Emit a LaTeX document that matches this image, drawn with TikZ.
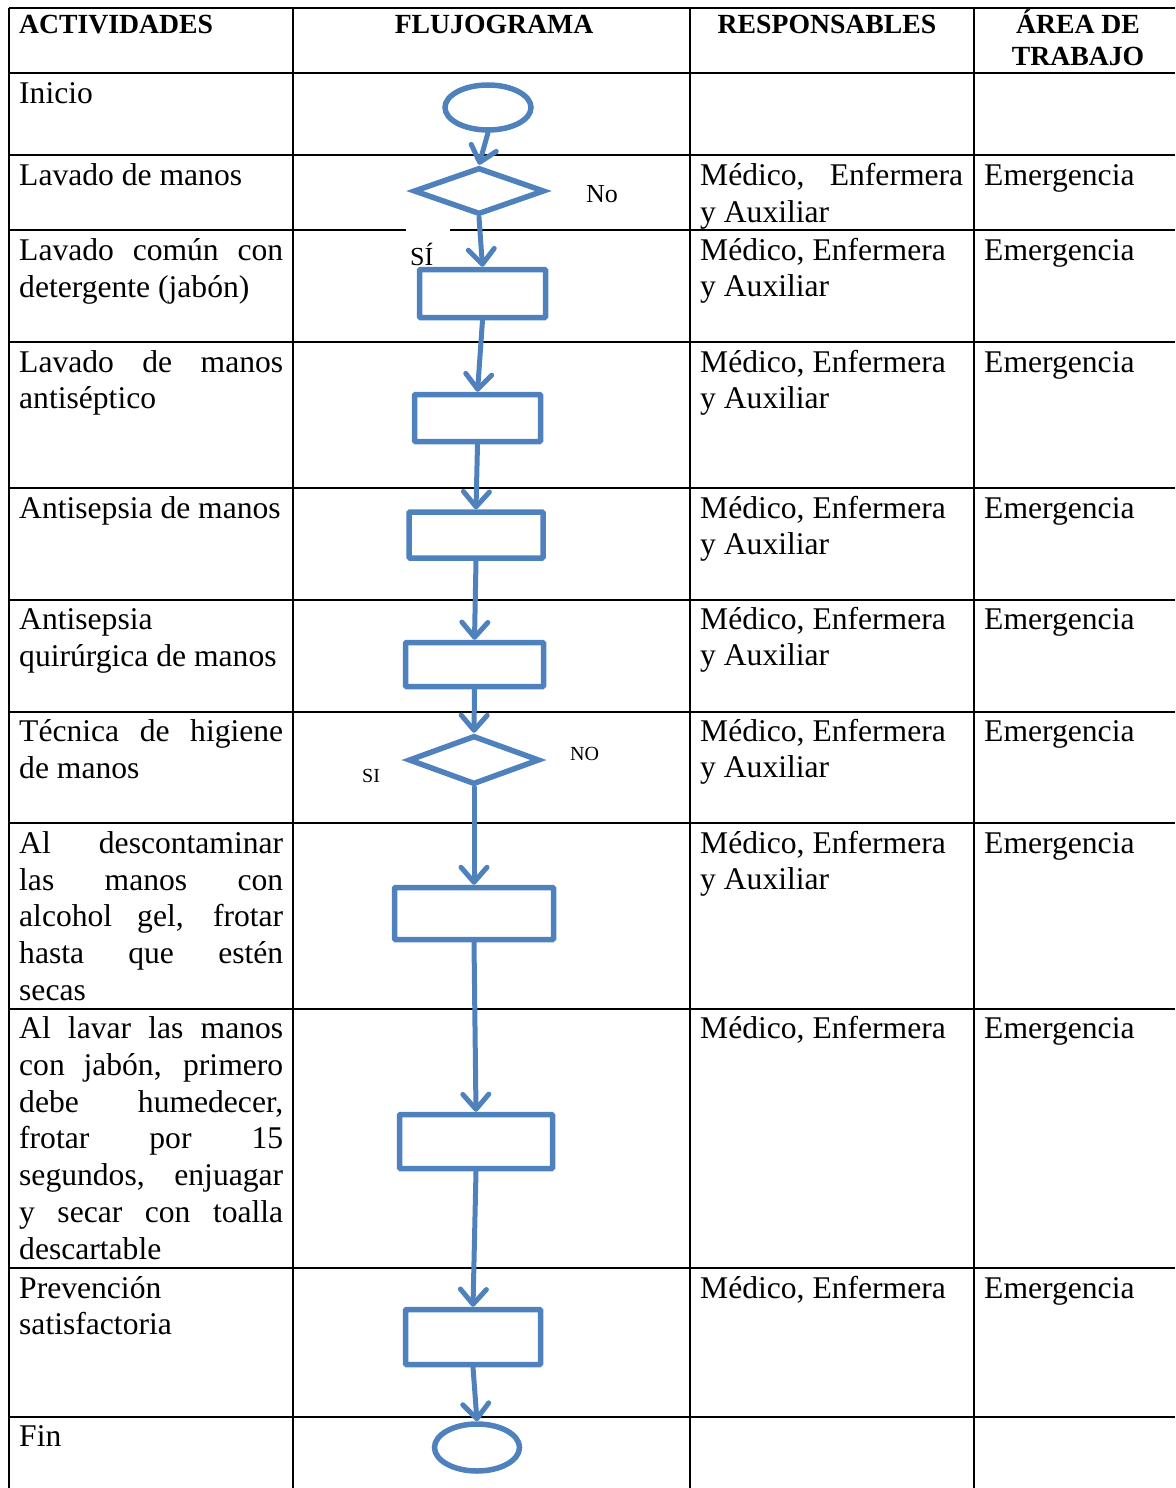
\documentclass[tikz,border=0pt]{standalone}
\usepackage{fontspec}
\setmainfont{Liberation Serif}
\usetikzlibrary{shapes.geometric,arrows.meta}
\definecolor{flowblue}{HTML}{4F81BD}

% justified line of a table cell
\newcommand\jline[2]{\makebox[#1][s]{#2}}

\tikzset{
  rule/.style={line width=2.6pt, black},
  celltext/.style={anchor=base west, inner sep=0pt, font=\fontsize{31.6}{36.7}\selectfont},
  headtext/.style={anchor=base, inner sep=0pt, font=\bfseries\fontsize{27.7}{32}\selectfont},
  lbl/.style={anchor=base west, inner sep=0pt, font=\fontsize{26}{30}\selectfont},
  lblsmall/.style={anchor=base west, inner sep=0pt, font=\fontsize{20}{24}\selectfont},
  flow/.style={draw=flowblue, line width=5.5pt},
  procbox/.style={flow, rectangle, rounded corners=1pt, inner sep=0pt},
  decision/.style={flow, diamond, inner sep=0pt},
  terminal/.style={flow, ellipse, inner sep=0pt},
  link/.style={draw=flowblue, line width=5pt, line cap=round,
    -{Straight Barb[round,length=15pt,width=26pt]}},
}

\begin{document}
\begin{tikzpicture}[x=1pt,y=-1pt]
\useasboundingbox (0,0) rectangle (1175,1488);

% ---- table rules ----
\foreach \yy in {8,73,155,230,342,488,600,712,823,1009,1268,1417}
  \draw[rule] (9,\yy) -- (1175,\yy);
\foreach \xx in {9,293,690,974}
  \draw[rule] (\xx,8) -- (\xx,1488);

% white backing of the "SÍ" label
\fill[white] (406,226) rectangle (450,235);

% ---- header ----
\node[headtext, anchor=base west] (hA) at (19,34) {ACTIVIDADES};
\node[headtext] (hF) at (494,34) {FLUJOGRAMA};
\node[headtext] (hR) at (827,34) {RESPONSABLES};
\node[headtext] (hT1) at (1078,34) {ÁREA DE};
\node[headtext] (hT2) at (1078,66) {TRABAJO};

\begin{scope}[yshift=-2pt]
% ---- activities ----
\node[celltext] (a1) at (19,101) {Inicio};
\node[celltext] (a2) at (19,183) {Lavado de manos};
\node[celltext] (a3) at (19,258) {\jline{264pt}{Lavado común con}};
\node[celltext] (a3b) at (19,295) {detergente (jabón)};
\node[celltext] (a4) at (19,370) {\jline{264pt}{Lavado de manos}};
\node[celltext] (a4b) at (19,406) {antiséptico};
\node[celltext] (a5) at (19,516) {Antisepsia de manos};
\node[celltext] (a6) at (19,627) {Antisepsia};
\node[celltext] (a6b) at (19,664) {quirúrgica de manos};
\node[celltext] (a7) at (19,739) {\jline{264pt}{Técnica de higiene}};
\node[celltext] (a7b) at (19,776) {de manos};
\node[celltext] (a8) at (19,851) {\jline{264pt}{Al descontaminar}};
\node[celltext] (a8b) at (19,888) {\jline{264pt}{las manos con}};
\node[celltext] (a8c) at (19,924) {\jline{264pt}{alcohol gel, frotar}};
\node[celltext] (a8d) at (19,961) {\jline{264pt}{hasta que estén}};
\node[celltext] (a8e) at (19,998) {secas};
\node[celltext] (a9) at (19,1036) {\jline{264pt}{Al lavar las manos}};
\node[celltext] (a9b) at (19,1073) {\jline{264pt}{con jabón, primero}};
\node[celltext] (a9c) at (19,1110) {\jline{264pt}{debe humedecer,}};
\node[celltext] (a9d) at (19,1146) {\jline{264pt}{frotar por 15}};
\node[celltext] (a9e) at (19,1183) {\jline{264pt}{segundos, enjuagar}};
\node[celltext] (a9f) at (19,1220) {\jline{264pt}{y secar con toalla}};
\node[celltext] (a9g) at (19,1257) {descartable};
\node[celltext] (a10) at (19,1296) {Prevención};
\node[celltext] (a10b) at (19,1332) {satisfactoria};
\node[celltext] (a11) at (19,1444) {Fin};

% ---- responsible staff ----
\node[celltext] (r0) at (700,183) {\jline{263pt}{Médico, Enfermera}};
\node[celltext] (r0b) at (700,220) {y Auxiliar};
\foreach \yy [count=\k] in {258,370,516,627,739,851} {
  \node[celltext] (r\k) at (700,\yy) {Médico, Enfermera};
  \node[celltext] (rb\k) at (700,\yy+36.8) {y Auxiliar};
}
\node[celltext] (r7) at (700,1036) {Médico, Enfermera};
\node[celltext] (r8) at (700,1296) {Médico, Enfermera};

% ---- work area ----
\foreach \yy [count=\k] in {183,258,370,516,627,739,851,1036,1296}
  \node[celltext] (w\k) at (984,\yy) {Emergencia};
\end{scope}

% ---- flowchart ----
\node[terminal, minimum width=86pt, minimum height=45pt] (start) at (488,107.5) {};
\node[decision, minimum width=131pt, minimum height=47pt] (d1) at (479,191) {};
\node[procbox, minimum width=126pt, minimum height=48pt] (p1) at (482.5,293.5) {};
\node[procbox, minimum width=126pt, minimum height=47pt] (p2) at (477.5,418) {};
\node[procbox, minimum width=134pt, minimum height=46pt] (p3) at (476,535) {};
\node[procbox, minimum width=138pt, minimum height=44pt] (p4) at (474.5,664.5) {};
\node[decision, minimum width=131pt, minimum height=49pt] (d2) at (474,760) {};
\node[procbox, minimum width=159pt, minimum height=52pt] (p5) at (474,913.5) {};
\node[procbox, minimum width=153pt, minimum height=54pt] (p6) at (476,1141.5) {};
\node[procbox, minimum width=135pt, minimum height=55pt] (p7) at (473,1337) {};
\node[terminal, minimum width=85pt, minimum height=47pt] (stop) at (477,1447.5) {};

\draw[link] (start.south) -- (d1.north);
\draw[link] (d1.south) -- (p1.north);
\draw[link] (p1.south) -- (p2.north);
\draw[link] (p2.south) -- (p3.north);
\draw[link] (p3.south) -- (p4.north);
\draw[link] (p4.south) -- (d2.north);
\draw[link] (d2.south) -- (p5.north);
\draw[link] (p5.south) -- (p6.north);
\draw[link] (p6.south) -- (p7.north);
\draw[link] (p7.south) -- (stop.north);

% decision labels
\node[lbl] (no1) at (586,202) {No};
\node[lbl] (si1) at (410,265) {SÍ};
\node[lblsmall] (no2) at (570,760) {NO};
\node[lblsmall] (si2) at (362,782) {SI};
\end{tikzpicture}
\end{document}
